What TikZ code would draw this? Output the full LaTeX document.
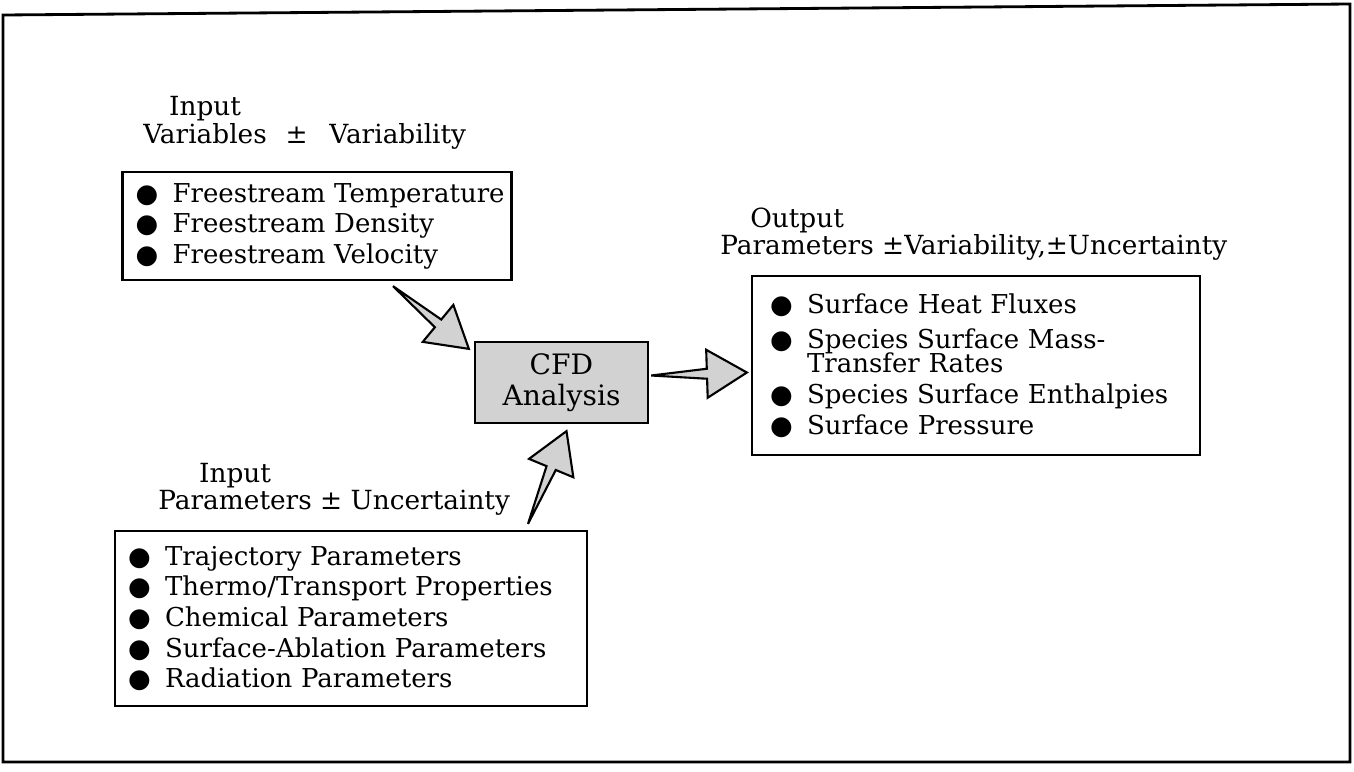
\documentclass[tikz,border=0pt]{standalone}
\usepackage{fontspec}
\setmainfont{DejaVu Serif}
\newfontfamily\symfont{DejaVu Sans}
\usetikzlibrary{calc}

% bullet for the list boxes
\newcommand{\blt}{\hspace*{0.16cm}{\symfont ●}\hspace{0.55em}}
% tapering block arrow from #1 (tail) to #2 (tip)
\newcommand{\fatarrow}[2]{%
    \filldraw[fatarrow] (#1)
        -- ($(#2)!0.8cm!(#1)!0.1cm!90:(#1)$)
        -- ($(#2)!0.8cm!(#1)!0.48cm!90:(#1)$)
        -- (#2)
        -- ($(#2)!0.8cm!(#1)!0.48cm!-90:(#1)$)
        -- ($(#2)!0.8cm!(#1)!0.1cm!-90:(#1)$)
        -- cycle;}

\begin{document}
\begin{tikzpicture}[x=0.02cm, y=-0.02cm,
    box/.style={draw, line width=1.3pt, inner ysep=0pt, align=left, font=\fontsize{14.8}{17.4}\selectfont},
    title/.style={inner sep=0pt, anchor=base west, font=\fontsize{15}{14.2}\selectfont},
    cfdbox/.style={draw, line width=1.3pt, fill=gray!35, align=center, font=\fontsize{16}{17.6}\selectfont},
    fatarrow/.style={draw, line width=1.2pt, fill=gray!35, line join=miter},
    frame/.style={draw, line width=1.6pt}]

    \useasboundingbox (0,0) rectangle (1354,771);
    \draw[frame] (3,15) -- (1350,4) -- (1350,762) -- (3,762) -- cycle;

    \node[cfdbox, minimum width=3.46cm, minimum height=1.62cm] (cfd) at (561.5,382.5) {CFD\\Analysis};

    \node[box, inner xsep=0.1cm, text width=7.58cm, minimum height=2.16cm] (varbox) at (317,226) {%
        \blt Freestream Temperature\\
        \blt Freestream Density\\
        \blt Freestream Velocity};

    \node[box, inner xsep=0.1cm, text width=9.24cm, minimum height=3.5cm] (parbox) at (351,618.5) {%
        \blt Trajectory Parameters\\
        \blt Thermo/Transport Properties\\
        \blt Chemical Parameters\\
        \blt Surface-Ablation Parameters\\
        \blt Radiation Parameters};

    \node[box, inner xsep=0.2cm, text width=8.56cm, minimum height=3.58cm] (outbox) at (976,365.5) {%
        \blt Surface Heat Fluxes\\[2.5pt]
        \blt Species Surface Mass-\\[-3.4pt]
        \phantom{\blt}Transfer Rates\\
        \blt Species Surface Enthalpies\\
        \blt Surface Pressure};

    \node[title] (vartitle) at (143,143) {\begin{tabular}[b]{@{}c@{}}Input\\Variables\end{tabular}\hspace{0.4em} ±\hspace{0.5em} Variability};
    \node[title] (partitle) at (158,509) {\begin{tabular}[b]{@{}c@{}}Input\\Parameters\end{tabular} ± Uncertainty};
    \node[title] (outtitle) at (720,254) {\begin{tabular}[b]{@{}c@{}}Output\\Parameters\end{tabular} ±Variability,±Uncertainty};

    \coordinate (vartail) at ($(varbox.south)+(76,5)$);
    \coordinate (varhead) at ($(cfd.north west)+(-5,8)$);
    \coordinate (cfdtail) at ($(cfd.east)+(2,-7)$);
    \coordinate (outhead) at ($(outbox.west)+(-4,7)$);
    \coordinate (partail) at ($(parbox.north)+(177,-6)$);
    \coordinate (parhead) at ($(cfd.south)+(5,7)$);

    \fatarrow{vartail}{varhead}
    \fatarrow{cfdtail}{outhead}
    \fatarrow{partail}{parhead}

\end{tikzpicture}
\end{document}
